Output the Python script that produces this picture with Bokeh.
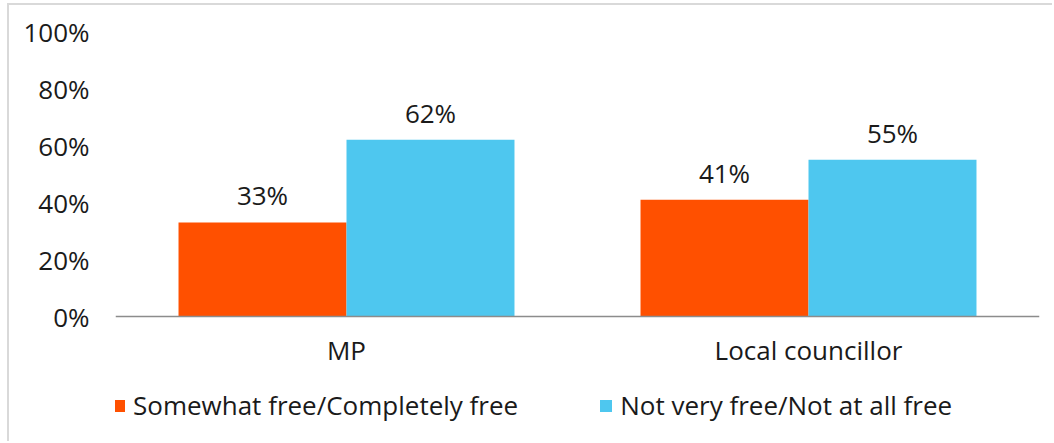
from bokeh.plotting import figure
from bokeh.models import (ColumnDataSource, FactorRange, Range1d, Legend, LegendItem,
                          LabelSet, FixedTicker, PrintfTickFormatter, Span)
from bokeh.core.properties import value
from bokeh.transform import dodge
from bokeh.embed import file_html
from bokeh.resources import INLINE

categories = ["MP", "Local councillor"]
series_names = ["Somewhat free/Completely free", "Not very free/Not at all free"]
free = [33, 41]
not_free = [62, 55]
colors = ["#FF5000", "#4EC7EF"]
y_ticks = [0, 20, 40, 60, 80, 100]

FONT = "Open Sans"
FS = "26px"
TXT = "#1a1a1a"

src = ColumnDataSource(dict(
    cat=categories,
    free=free,
    not_free=not_free,
    free_lbl=[f"{v}%" for v in free],
    not_free_lbl=[f"{v}%" for v in not_free],
    zero=[0] * len(categories),
))

# frame spans from y=100 (top) down to the bottom of the figure; 0 sits where the axis line is
p = figure(width=1045, height=438, x_range=FactorRange(*categories), y_range=Range1d(-44.56, 100),
           output_backend="svg", toolbar_location=None,
           min_border_left=106, min_border_right=15, min_border_top=26, min_border_bottom=0)
p.styles = {"margin-left": "7px", "margin-top": "3px",
            "border-left": "2px solid #d9d9d9", "border-top": "2px solid #d9d9d9"}
p.outline_line_color = None
p.grid.grid_line_color = None
p.background_fill_color = "white"
p.border_fill_color = "white"

bw = 0.3636
r1 = p.vbar(x=dodge("cat", -bw / 2, range=p.x_range), top="free", width=bw, source=src,
            fill_color=colors[0], line_color=None)
r2 = p.vbar(x=dodge("cat", bw / 2, range=p.x_range), top="not_free", width=bw, source=src,
            fill_color=colors[1], line_color=None)

for col, lbl, off in [("free", "free_lbl", -bw / 2), ("not_free", "not_free_lbl", bw / 2)]:
    ls = LabelSet(x=dodge("cat", off, range=p.x_range), y=col, text=lbl, source=src,
                  text_align="center", text_baseline="alphabetic", y_offset=17,
                  text_font=value(FONT), text_font_size=value(FS), text_color=TXT)
    p.add_layout(ls)

# category axis: baseline line at 0 and category labels below it
p.add_layout(Span(location=0, dimension="width", line_color="#8c8c8c", line_width=1.5))
cat_labels = LabelSet(x="cat", y="zero", text="cat", source=src, text_align="center",
                      text_baseline="alphabetic", y_offset=-43,
                      text_font=value(FONT), text_font_size=value(FS), text_color=TXT)
p.add_layout(cat_labels)
p.xaxis.visible = False

p.yaxis.ticker = FixedTicker(ticks=y_ticks)
p.yaxis.formatter = PrintfTickFormatter(format="%d%%")
p.yaxis.axis_line_color = None
p.yaxis.major_tick_line_color = None
p.yaxis.minor_tick_line_color = None
p.yaxis.major_label_standoff = 20
p.yaxis.major_label_text_font = FONT
p.yaxis.major_label_text_font_size = FS
p.yaxis.major_label_text_color = TXT

legend = Legend(items=[LegendItem(label=series_names[0], renderers=[r1]),
                       LegendItem(label=series_names[1], renderers=[r2])],
                orientation="horizontal", location=(-4, 20),
                glyph_width=15, glyph_height=15, label_standoff=7, spacing=80,
                padding=0, margin=0, border_line_color=None, background_fill_alpha=0,
                label_text_font=FONT, label_text_font_size=FS, label_text_color=TXT)
p.add_layout(legend, "center")

open("out.html", "w").write(file_html(p, INLINE))
